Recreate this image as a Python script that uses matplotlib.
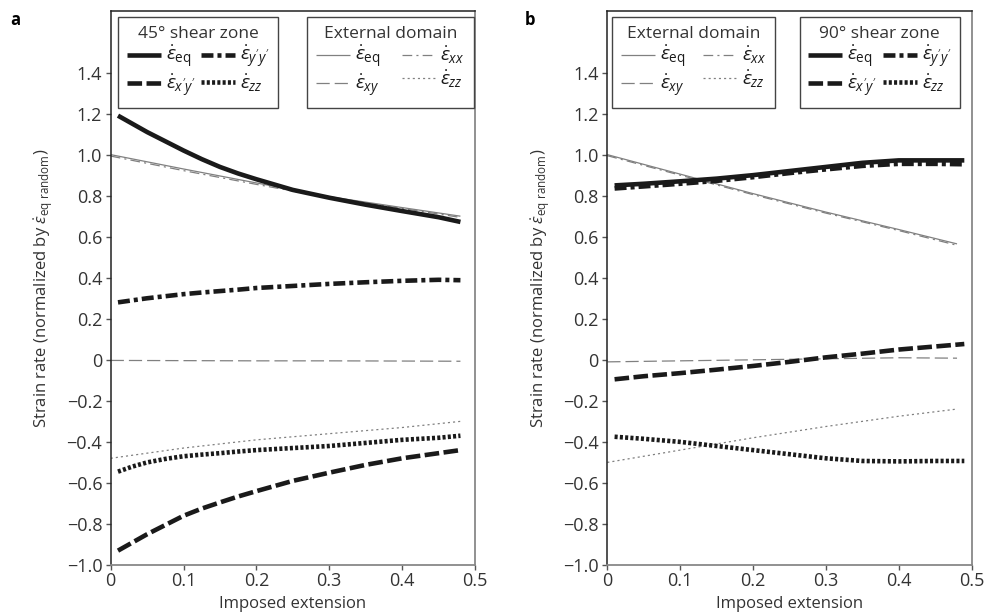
import matplotlib
matplotlib.use("Agg")
import matplotlib.pyplot as plt
from matplotlib.lines import Line2D

plt.rcParams['font.family'] = ['Open Sans', 'DejaVu Sans']
plt.rcParams['mathtext.fontset'] = 'custom'
plt.rcParams['mathtext.rm'] = 'Open Sans'
plt.rcParams['mathtext.it'] = 'Open Sans:italic'
plt.rcParams['lines.scale_dashes'] = False

# ---------------- data ----------------
x_tick_labels = ['0', '0.1', '0.2', '0.3', '0.4', '0.5']
x_ticks = [0, 0.1, 0.2, 0.3, 0.4, 0.5]
y_ticks = [-1.0, -0.8, -0.6, -0.4, -0.2, 0, 0.2, 0.4, 0.6, 0.8, 1.0, 1.2, 1.4]
y_tick_labels = ['\u22121.0', '\u22120.8', '\u22120.6', '\u22120.4', '\u22120.2', '0',
                 '0.2', '0.4', '0.6', '0.8', '1.0', '1.2', '1.4']

# panel a : 45 degree shear zone
x_a = [0.01, 0.03, 0.05, 0.075, 0.1, 0.125, 0.15, 0.175, 0.2, 0.25, 0.3, 0.35, 0.4, 0.45, 0.48]
a_sz_eq = [1.19, 1.15, 1.11, 1.065, 1.02, 0.978, 0.94, 0.908, 0.88, 0.828, 0.79, 0.756, 0.725, 0.695, 0.672]
a_sz_yy = [0.28, 0.29, 0.30, 0.31, 0.32, 0.328, 0.335, 0.342, 0.35, 0.36, 0.37, 0.378, 0.385, 0.39, 0.388]
a_sz_xy = [-0.93, -0.89, -0.85, -0.805, -0.76, -0.725, -0.695, -0.666, -0.64, -0.59, -0.55, -0.512, -0.48, -0.455, -0.44]
a_sz_zz = [-0.545, -0.52, -0.50, -0.483, -0.47, -0.462, -0.455, -0.447, -0.44, -0.43, -0.42, -0.405, -0.39, -0.38, -0.37]
# panel a : external domain
x_ae = [0.0, 0.1, 0.2, 0.3, 0.4, 0.48]
a_ex_eq = [1.0, 0.93, 0.862, 0.795, 0.742, 0.70]
a_ex_xx = [0.993, 0.922, 0.855, 0.79, 0.738, 0.694]
a_ex_xy = [-0.003, -0.004, -0.005, -0.005, -0.006, -0.007]
a_ex_zz = [-0.48, -0.43, -0.39, -0.36, -0.33, -0.30]

# panel b : 90 degree shear zone
x_b = [0.01, 0.05, 0.1, 0.15, 0.2, 0.25, 0.3, 0.35, 0.4, 0.45, 0.49]
b_sz_eq = [0.85, 0.858, 0.87, 0.883, 0.90, 0.92, 0.94, 0.96, 0.972, 0.972, 0.972]
b_sz_yy = [0.835, 0.845, 0.858, 0.872, 0.89, 0.91, 0.928, 0.945, 0.955, 0.955, 0.953]
b_sz_xy = [-0.095, -0.08, -0.065, -0.048, -0.03, -0.01, 0.012, 0.03, 0.05, 0.065, 0.077]
b_sz_zz = [-0.375, -0.385, -0.40, -0.42, -0.44, -0.46, -0.48, -0.493, -0.495, -0.493, -0.493]
# panel b : external domain
x_be = [0.0, 0.1, 0.2, 0.3, 0.4, 0.48]
b_ex_eq = [1.0, 0.905, 0.81, 0.72, 0.635, 0.565]
b_ex_xx = [0.995, 0.9, 0.805, 0.715, 0.63, 0.558]
b_ex_xy = [-0.01, -0.005, 0.0, 0.005, 0.01, 0.008]
b_ex_zz = [-0.50, -0.44, -0.38, -0.325, -0.275, -0.24]

# ---------------- styles ----------------
DARK = '#1a1a1a'
GRAY = '#808080'
thick = dict(color=DARK, lw=3.3, solid_capstyle='butt', dash_capstyle='butt')
thin = dict(color=GRAY, lw=0.9, solid_capstyle='butt', dash_capstyle='butt')
sty_thick = {
    'eq': dict(linestyle='-'),
    'yy': dict(dashes=(8.6, 2.9, 2.9, 2.9)),
    'xy': dict(dashes=(10.5, 3.2)),
    'zz': dict(dashes=(2.2, 1.6)),
}
sty_thin = {
    'eq': dict(linestyle='-'),
    'xx': dict(dashes=(7, 3, 1.5, 3)),
    'xy': dict(dashes=(9.5, 3.6)),
    'zz': dict(dashes=(1.5, 2.2)),
}

lab_eq = r'$\dot{\varepsilon}_{\mathrm{eq}}$'
lab_yy = r"$\dot{\varepsilon}_{y'y'}$"
lab_xpy = r"$\dot{\varepsilon}_{x'y'}$"
lab_zz = r'$\dot{\varepsilon}_{zz}$'
lab_xx = r'$\dot{\varepsilon}_{xx}$'
lab_xy = r'$\dot{\varepsilon}_{xy}$'

fig = plt.figure(figsize=(9.85, 6.16), dpi=100)
ax_a = fig.add_axes([110.7 / 985, 51 / 616, 364.3 / 985, 554 / 616])
ax_b = fig.add_axes([607.3 / 985, 51 / 616, 364.3 / 985, 554 / 616])

TXT = '#333333'


def style_axes(ax):
    ax.set_xlim(0, 0.5)
    ax.set_ylim(-1.0, 1.7)
    ax.set_xticks(x_ticks)
    ax.set_xticklabels(x_tick_labels)
    ax.set_yticks(y_ticks)
    ax.set_yticklabels(y_tick_labels)
    ax.tick_params(axis='both', direction='out', length=3.6, width=1.0,
                   labelsize=13, labelcolor=TXT, color='#555555', pad=1.5)
    ax.tick_params(axis='y', pad=2.5)
    ax.tick_params(top=False, right=False)
    for s in ['left', 'top']:
        ax.spines[s].set_color('#222222')
        ax.spines[s].set_linewidth(1.1)
    for s in ['right', 'bottom']:
        ax.spines[s].set_color('#888888')
        ax.spines[s].set_linewidth(1.3)
    ax.set_xlabel('Imposed extension', fontsize=12, color=TXT)
    ax.set_ylabel(r'Strain rate (normalized by $\dot{\varepsilon}_{\mathrm{eq\ random}}$)',
                  fontsize=12, color=TXT)
    ax.xaxis.set_label_coords(0.5, -0.056)
    ax.yaxis.set_label_coords(-0.152, 0.5)


def make_legend(ax, handles, labels, title, bbox):
    leg = ax.legend(handles, labels, title=title, ncol=2, loc='upper left',
                    bbox_to_anchor=bbox, mode='expand', borderaxespad=0,
                    fancybox=False, framealpha=1, edgecolor='#444444',
                    fontsize=14, title_fontsize=12.5, handlelength=1.75,
                    handletextpad=0.25, columnspacing=0.6, labelspacing=0.1,
                    borderpad=0.45)
    leg.get_frame().set_linewidth(1.0)
    leg.get_title().set_color(TXT)
    for t in leg.get_texts():
        t.set_color(DARK)
    return leg


# ---- panel a ----
ax = ax_a
ax.plot(x_ae, a_ex_xy, **thin, **sty_thin['xy'])
ax.plot(x_ae, a_ex_zz, **thin, **sty_thin['zz'])
ax.plot(x_ae, a_ex_xx, **thin, **sty_thin['xx'])
ax.plot(x_ae, a_ex_eq, **thin, **sty_thin['eq'])
ax.plot(x_a, a_sz_eq, **thick, **sty_thick['eq'])
ax.plot(x_a, a_sz_yy, **thick, **sty_thick['yy'])
ax.plot(x_a, a_sz_xy, **thick, **sty_thick['xy'])
ax.plot(x_a, a_sz_zz, **thick, **sty_thick['zz'])
style_axes(ax)

h_thick = [Line2D([], [], **thick, **sty_thick[k]) for k in ['eq', 'xy', 'yy', 'zz']]
h_thin = [Line2D([], [], **thin, **sty_thin[k]) for k in ['eq', 'xy', 'xx', 'zz']]

l1 = make_legend(ax, h_thick, [lab_eq, lab_xpy, lab_yy, lab_zz], '45\u00b0 shear zone',
                 (0.02, 0.0, 0.439, 0.989))
ax.add_artist(l1)
make_legend(ax, h_thin, [lab_eq, lab_xy, lab_xx, lab_zz], 'External domain',
            (0.539, 0.0, 0.457, 0.989))

# ---- panel b ----
ax = ax_b
ax.plot(x_be, b_ex_xy, **thin, **sty_thin['xy'])
ax.plot(x_be, b_ex_zz, **thin, **sty_thin['zz'])
ax.plot(x_be, b_ex_xx, **thin, **sty_thin['xx'])
ax.plot(x_be, b_ex_eq, **thin, **sty_thin['eq'])
ax.plot(x_b, b_sz_eq, **thick, **sty_thick['eq'])
ax.plot(x_b, b_sz_yy, **thick, **sty_thick['yy'])
ax.plot(x_b, b_sz_xy, **thick, **sty_thick['xy'])
ax.plot(x_b, b_sz_zz, **thick, **sty_thick['zz'])
style_axes(ax)

l2 = make_legend(ax, h_thin, [lab_eq, lab_xy, lab_xx, lab_zz], 'External domain',
                 (0.013, 0.0, 0.447, 0.989))
ax.add_artist(l2)
make_legend(ax, h_thick, [lab_eq, lab_xpy, lab_yy, lab_zz], '90\u00b0 shear zone',
            (0.528, 0.0, 0.44, 0.989))

fig.text(10 / 985, 1 - 20 / 616, 'a', fontsize=12, fontweight='bold', va='center', ha='left')
fig.text(525 / 985, 1 - 20 / 616, 'b', fontsize=12, fontweight='bold', va='center', ha='left')

fig.savefig('out.png', dpi=100)
